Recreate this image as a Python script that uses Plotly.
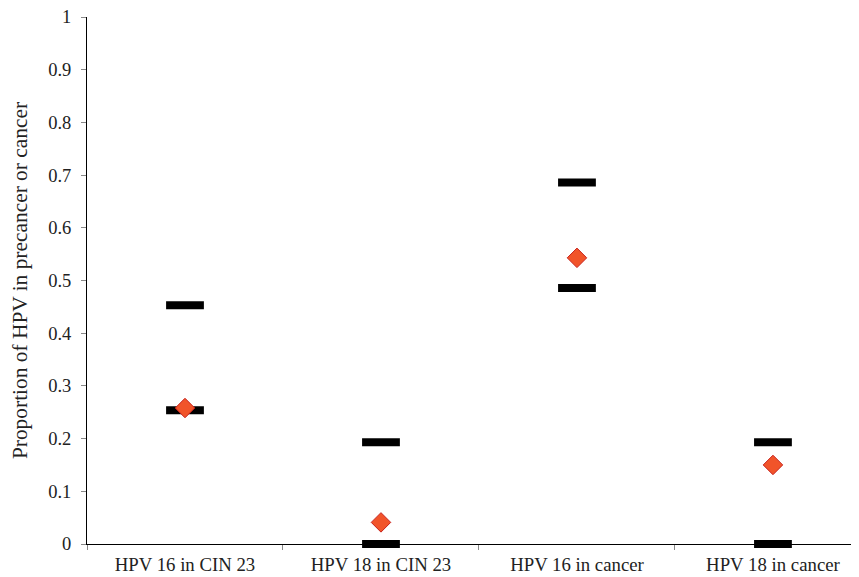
import plotly.graph_objects as go

categories = ["HPV 16 in CIN 23", "HPV 18 in CIN 23", "HPV 16 in cancer", "HPV 18 in cancer"]
upper = [0.453, 0.193, 0.686, 0.193]
lower = [0.254, 0.0, 0.486, 0.0]
point = [0.258, 0.041, 0.543, 0.150]
yticks = [0, 0.1, 0.2, 0.3, 0.4, 0.5, 0.6, 0.7, 0.8, 0.9, 1]
ytick_text = ["0", "0.1", "0.2", "0.3", "0.4", "0.5", "0.6", "0.7", "0.8", "0.9", "1"]

xpos = list(range(len(categories)))

fig = go.Figure()
dash_marker = dict(symbol="line-ew", size=27, line=dict(color="black", width=8))
fig.add_trace(go.Scatter(x=xpos, y=upper, mode="markers", marker=dash_marker,
                         showlegend=False, cliponaxis=False))
fig.add_trace(go.Scatter(x=xpos, y=lower, mode="markers", marker=dash_marker,
                         showlegend=False, cliponaxis=False))
fig.add_trace(go.Scatter(x=xpos, y=point, mode="markers",
                         marker=dict(symbol="diamond", size=15, color="#F1542A",
                                     line=dict(color="#C8221C", width=1)),
                         showlegend=False, cliponaxis=False))

font_family = "Liberation Serif, Times New Roman, serif"
fig.update_layout(
    width=851, height=569,
    margin=dict(l=79, r=0, t=9, b=33),
    plot_bgcolor="white", paper_bgcolor="white",
    font=dict(family=font_family, size=18, color="#222222"),
    xaxis=dict(
        range=[-0.5, 3.439], tickmode="array", tickvals=xpos, ticktext=categories,
        ticks="", showgrid=False, zeroline=False, showline=True,
        linecolor="black", linewidth=1, automargin=False,
        ticklabelstandoff=3, ticklabeloverflow="allow",
        minor=dict(tickmode="array", tickvals=[-0.5, 0.5, 1.5, 2.5], ticks="outside",
                   ticklen=5, tickcolor="#888888", tickwidth=1, showgrid=False),
        tickfont=dict(size=18.8),
    ),
    yaxis=dict(
        range=[0, 1], tickmode="array", tickvals=yticks, ticktext=ytick_text,
        ticks="outside", ticklen=5, tickcolor="#888888", tickwidth=1,
        showgrid=False, zeroline=False, showline=True, linecolor="black", linewidth=1,
        ticklabelstandoff=6, automargin=False, ticklabeloverflow="allow",
        tickfont=dict(size=18.5),
        title=dict(text="Proportion of HPV in precancer or cancer", font=dict(size=21.4),
                   standoff=16),
    ),
)

fig.write_html("out.html")
